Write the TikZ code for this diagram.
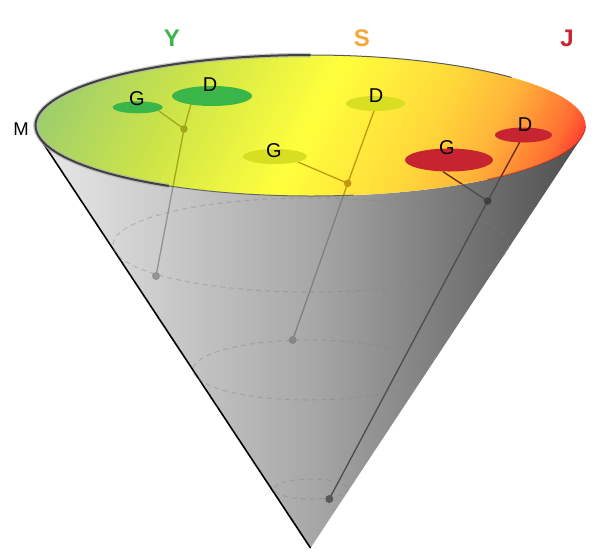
\documentclass[tikz,border=0pt]{standalone}
\usepackage{fontspec}
\setmainfont{Liberation Sans}
\usetikzlibrary{shapes.geometric,calc}

\definecolor{ygreen}{RGB}{58,181,74}
\definecolor{sorange}{RGB}{247,167,56}
\definecolor{jred}{RGB}{198,36,48}
\definecolor{sblob}{RGB}{216,222,34}
\definecolor{yolive}{RGB}{160,168,25}
\definecolor{sochre}{RGB}{195,150,15}
\definecolor{jbrown}{RGB}{100,40,25}
\definecolor{discgreen}{RGB}{155,205,110}
\definecolor{disclime}{RGB}{205,228,72}
\definecolor{discyellow}{RGB}{255,255,60}
\definecolor{discamber}{RGB}{255,215,58}
\definecolor{discorange}{RGB}{255,180,58}
\definecolor{discflame}{RGB}{255,110,50}
\definecolor{discred}{RGB}{255,60,48}
\definecolor{conelight}{RGB}{232,232,232}
\definecolor{conemid}{RGB}{168,168,168}
\definecolor{conedark}{RGB}{78,78,78}

\pgfdeclarehorizontalshading{coneshade}{100bp}{color(0bp)=(conelight); color(25bp)=(conelight); color(50bp)=(conemid); color(75bp)=(conedark); color(100bp)=(conedark)}

% colour band of the disc, from u=#1 to u=#2, colour #3 to #4
\newcommand\discband[4]{%
  \foreach \k in {0,...,19}{
    \pgfmathsetmacro\ua{#1+(#2-#1)*\k/20}
    \pgfmathsetmacro\ub{#1+(#2-#1)*(\k+1)/20+0.6}
    \pgfmathsetmacro\mix{100*(\k+0.5)/20}
    \fill[#4!\mix!#3] (\ua,-300) rectangle (\ub,300);
  }}

\tikzset{
  blob/.style={ellipse, inner sep=0pt, draw=none},
  tag/.style={font=\fontsize{20}{20}\selectfont, inner sep=0pt},
  head/.style={font=\fontsize{24}{24}\selectfont\bfseries, inner sep=0pt},
  ring/.style={draw=gray, opacity=0.4, dash pattern=on 5pt off 4pt, line width=1pt},
  thread/.style={line width=1.3pt},
}

\begin{document}
\begin{tikzpicture}[x=1pt, y=-1pt]
\useasboundingbox (0,0) rectangle (600,558);
\coordinate (O) at (310.5,125.5);
\coordinate (apex) at (310.5,548);
\coordinate (lt) at ($(O)+(-271.2,11.8)$);
\coordinate (rt) at ($(O)+(271.2,11.8)$);
% cone
\shade[shading=coneshade] (lt) -- (apex) -- (rt) arc[start angle=9.6, end angle=170.4, x radius=275, y radius=70.5] -- cycle;
\draw[line width=1.6pt] (lt) -- (apex);
\draw[ring] (311,245) ellipse[x radius=198, y radius=47];
\draw[ring] (309,370) ellipse[x radius=116, y radius=30];
\draw[ring] (311,489) ellipse[x radius=37, y radius=10];
% threads
\coordinate (yGs) at (159,111);
\coordinate (yDs) at (191,104);
\coordinate (yJ) at (184,129);
\coordinate (yP) at (156,276);
\coordinate (sGs) at (298,162);
\coordinate (sDs) at (374,111);
\coordinate (sJ) at (347.7,183.3);
\coordinate (sP) at (292.7,340);
\coordinate (jGs) at (443,171.7);
\coordinate (jDs) at (520,141.7);
\coordinate (jJ) at (487.7,201);
\coordinate (jP) at (329.3,499);
\draw[thread, draw=gray!85] (yDs) -- (yJ) -- (yP);
\fill[gray!85] (yP) circle[radius=4pt];
\draw[thread, draw=gray] (sDs) -- (sJ) -- (sP);
\fill[gray!95] (sP) circle[radius=4pt];
\draw[thread, draw=black!70] (jDs) -- (jJ) -- (jP);
\draw[thread, draw=black!70] (jGs) -- (jJ);
\fill[black!75] (jJ) circle[radius=3.8pt];
\fill[black!65] (jP) circle[radius=4pt];
% disc
\begin{scope}
\clip (O) ellipse[x radius=275, y radius=70.5];
\begin{scope}[shift={(O)}, rotate=-27]
\discband{-250}{-128}{discgreen}{disclime}
\discband{-128}{0}{disclime}{discyellow}
\discband{0}{109}{discyellow}{discamber}
\discband{109}{168}{discamber}{discorange}
\discband{168}{227}{discorange}{discflame}
\discband{227}{250}{discflame}{discred}
\end{scope}
\draw[thread, draw=yolive] (yGs) -- (yJ);
\draw[thread, draw=yolive] (yDs) -- (yJ) -- (yP);
\fill[yolive] (yJ) circle[radius=3.8pt];
\draw[thread, draw=sochre] (sGs) -- (sJ);
\draw[thread, draw=sochre] (sDs) -- (sJ) -- (sP);
\fill[sochre] (sJ) circle[radius=3.8pt];
\draw[thread, draw=jbrown] (jGs) -- (jJ);
\draw[thread, draw=jbrown] (jDs) -- (jJ);
\end{scope}
% rim
\draw[gray!60, line width=4.5pt, opacity=0.7] ($(O)+(121:275 and 70.5)$) arc[start angle=121, end angle=270, x radius=275, y radius=70.5];
\draw[black!75, line width=2pt] ($(O)+(121:275 and 70.5)$) arc[start angle=121, end angle=270, x radius=275, y radius=70.5];
\draw[black!65, line width=1pt] ($(O)+(270:275 and 70.5)$) arc[start angle=270, end angle=317, x radius=275, y radius=70.5];
\draw[black!60, line width=1pt] ($(O)+(81:275 and 70.5)$) arc[start angle=81, end angle=121, x radius=275, y radius=70.5];
\draw[red!70!black, line width=1pt, opacity=0.5] ($(O)+(0:275 and 70.5)$) arc[start angle=0, end angle=50, x radius=275, y radius=70.5];
% blobs
\node[blob, fill=ygreen, minimum width=50pt, minimum height=12pt] (yG) at (137.7,107.3) {};
\node[blob, fill=ygreen, minimum width=80pt, minimum height=20pt] (yD) at (212,96) {};
\node[blob, fill=sblob, minimum width=64pt, minimum height=15pt] (sG) at (275,156.5) {};
\node[blob, fill=sblob, minimum width=59pt, minimum height=15pt] (sD) at (375.5,103.5) {};
\node[blob, fill=jred, minimum width=88pt, minimum height=23pt] (jG) at (449,160) {};
\node[blob, fill=jred, minimum width=57pt, minimum height=15pt] (jD) at (523.5,135) {};
\node[tag] (yGt) at ($(yG)+(-0.7,-8.3)$) {G};
\node[tag] (yDt) at ($(yD)+(-2,-11)$) {D};
\node[tag] (sGt) at ($(sG)+(-1,-5.5)$) {G};
\node[tag] (sDt) at ($(sD)+(0.5,-7.5)$) {D};
\node[tag] (jGt) at ($(jG)+(-2,-12)$) {G};
\node[tag] (jDt) at ($(jD)+(1.5,-10)$) {D};
% headings
\node[head, text=ygreen] (headY) at (172,38) {Y};
\node[head, text=sorange] (headS) at (362,38) {S};
\node[head, text=jred] (headJ) at (567,38) {J};
\node[font=\fontsize{18.5}{18.5}\selectfont, inner sep=0pt] (edgeM) at (21,129) {M};
\end{tikzpicture}
\end{document}
